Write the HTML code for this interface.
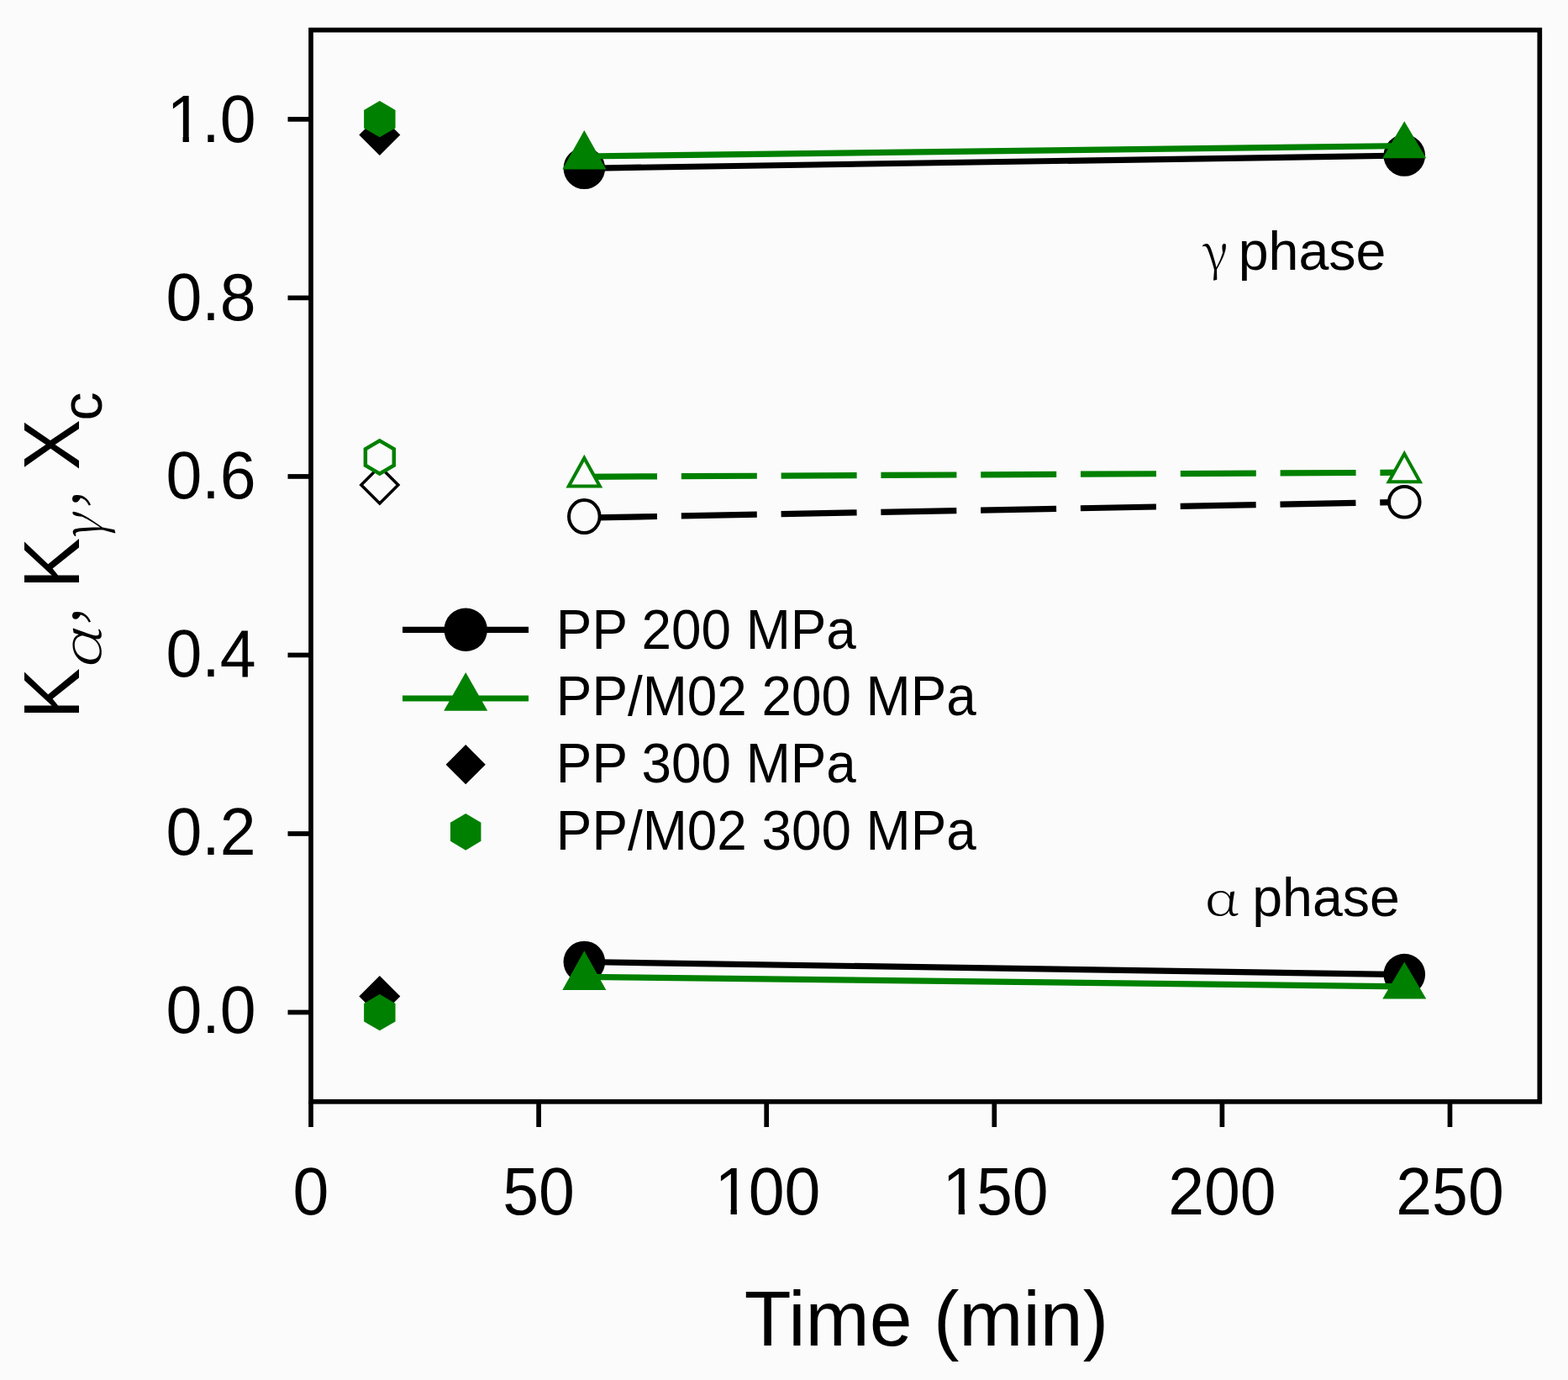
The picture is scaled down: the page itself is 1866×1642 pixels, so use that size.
<!DOCTYPE html>
<html><head><meta charset="utf-8"><title>K alpha, K gamma, Xc vs Time</title>
<style>
html,body{margin:0;padding:0;background:#fbfbfb;}
body{width:1866px;height:1642px;overflow:hidden;}
svg{display:block;}
</style></head>
<body>
<svg width="1866" height="1642" viewBox="0 0 1866 1642">
<rect x="0" y="0" width="1866" height="1642" fill="#fbfbfb"/>
<rect x="370.0" y="35.7" width="1462.3" height="1275.1" fill="none" stroke="#000" stroke-width="5.7" stroke-linejoin="miter"/>
<line x1="342.5" y1="1204.50" x2="370.0" y2="1204.50" stroke="#000" stroke-width="5.7"/>
<line x1="342.5" y1="991.98" x2="370.0" y2="991.98" stroke="#000" stroke-width="5.7"/>
<line x1="342.5" y1="779.46" x2="370.0" y2="779.46" stroke="#000" stroke-width="5.7"/>
<line x1="342.5" y1="566.94" x2="370.0" y2="566.94" stroke="#000" stroke-width="5.7"/>
<line x1="342.5" y1="354.42" x2="370.0" y2="354.42" stroke="#000" stroke-width="5.7"/>
<line x1="342.5" y1="141.90" x2="370.0" y2="141.90" stroke="#000" stroke-width="5.7"/>
<line x1="370.00" y1="1310.8" x2="370.00" y2="1341" stroke="#000" stroke-width="5.7"/>
<line x1="641.10" y1="1310.8" x2="641.10" y2="1341" stroke="#000" stroke-width="5.7"/>
<line x1="912.20" y1="1310.8" x2="912.20" y2="1341" stroke="#000" stroke-width="5.7"/>
<line x1="1183.30" y1="1310.8" x2="1183.30" y2="1341" stroke="#000" stroke-width="5.7"/>
<line x1="1454.40" y1="1310.8" x2="1454.40" y2="1341" stroke="#000" stroke-width="5.7"/>
<line x1="1725.50" y1="1310.8" x2="1725.50" y2="1341" stroke="#000" stroke-width="5.7"/>
<text transform="translate(197.46,1229.00) scale(1,1.04)" font-family="'Liberation Sans', Arial, sans-serif" font-size="77.0" fill="#000">0.0</text>
<text transform="translate(197.46,1016.92) scale(1,1.04)" font-family="'Liberation Sans', Arial, sans-serif" font-size="77.0" fill="#000">0.2</text>
<text transform="translate(197.46,804.84) scale(1,1.04)" font-family="'Liberation Sans', Arial, sans-serif" font-size="77.0" fill="#000">0.4</text>
<text transform="translate(197.46,592.76) scale(1,1.04)" font-family="'Liberation Sans', Arial, sans-serif" font-size="77.0" fill="#000">0.6</text>
<text transform="translate(197.46,380.68) scale(1,1.04)" font-family="'Liberation Sans', Arial, sans-serif" font-size="77.0" fill="#000">0.8</text>
<text transform="translate(197.46,168.60) scale(1,1.04)" font-family="'Liberation Sans', Arial, sans-serif" font-size="77.0" fill="#000"><tspan dx="1.0">1</tspan><tspan dx="-1.0">.0</tspan></text><rect x="203.12" y="161.92" width="14.45" height="8.18" fill="#fbfbfb"/><rect x="224.88" y="161.92" width="14.10" height="8.18" fill="#fbfbfb"/>
<text transform="translate(348.59,1444.80) scale(1,1.04)" font-family="'Liberation Sans', Arial, sans-serif" font-size="77.0" fill="#000">0</text>
<text transform="translate(598.28,1444.80) scale(1,1.04)" font-family="'Liberation Sans', Arial, sans-serif" font-size="77.0" fill="#000">50</text>
<text transform="translate(847.96,1444.80) scale(1,1.04)" font-family="'Liberation Sans', Arial, sans-serif" font-size="77.0" fill="#000"><tspan dx="2.5">1</tspan><tspan dx="-2.5">00</tspan></text><rect x="855.13" y="1438.12" width="14.45" height="8.18" fill="#fbfbfb"/><rect x="876.88" y="1438.12" width="14.10" height="8.18" fill="#fbfbfb"/>
<text transform="translate(1119.06,1444.80) scale(1,1.04)" font-family="'Liberation Sans', Arial, sans-serif" font-size="77.0" fill="#000"><tspan dx="2.5">1</tspan><tspan dx="-2.5">50</tspan></text><rect x="1126.23" y="1438.12" width="14.45" height="8.18" fill="#fbfbfb"/><rect x="1147.98" y="1438.12" width="14.10" height="8.18" fill="#fbfbfb"/>
<text transform="translate(1390.16,1444.80) scale(1,1.04)" font-family="'Liberation Sans', Arial, sans-serif" font-size="77.0" fill="#000">200</text>
<text transform="translate(1661.26,1444.80) scale(1,1.04)" font-family="'Liberation Sans', Arial, sans-serif" font-size="77.0" fill="#000">250</text>
<text transform="translate(885.75,1601.00) scale(1.0080,1.0200)" font-family="'Liberation Sans', Arial, sans-serif" font-size="90.70" fill="#000">Time (min)</text>
<text transform="translate(93.80,855.44) rotate(-90) scale(1.0000,1.0350)" font-family="'Liberation Sans', Arial, sans-serif" font-size="90.70" fill="#000">K</text>
<text transform="translate(119.80,797.37) rotate(-90) skewX(-12) scale(1.3100,1.0000)" font-family="'Noto Serif CJK SC', 'Liberation Serif', serif" font-weight="200" font-size="64.30" fill="#000">α</text>
<text transform="translate(93.80,745.96) rotate(-90)" font-family="'Noto Serif CJK SC', 'Liberation Serif', serif" font-weight="200" font-size="84.00" fill="#000">,</text>
<text transform="translate(93.80,700.44) rotate(-90) scale(1.0000,1.0350)" font-family="'Liberation Sans', Arial, sans-serif" font-size="90.70" fill="#000">K</text>
<text transform="translate(123.00,645.20) rotate(-90) skewX(-12) scale(0.8800,1.0000)" font-family="'Noto Serif CJK SC', 'Liberation Serif', serif" font-weight="200" font-size="70.20" fill="#000">γ</text>
<text transform="translate(93.80,606.96) rotate(-90)" font-family="'Noto Serif CJK SC', 'Liberation Serif', serif" font-weight="200" font-size="84.00" fill="#000">,</text>
<text transform="translate(93.80,559.44) rotate(-90) scale(1.0000,1.0350)" font-family="'Liberation Sans', Arial, sans-serif" font-size="90.70" fill="#000">X</text>
<text transform="translate(121.00,500.39) rotate(-90)" font-family="'Liberation Sans', Arial, sans-serif" font-size="68.00" fill="#000">c</text>
<text transform="translate(1430.90,322.30) scale(1.0000,1.0300)" font-family="'Noto Serif CJK SC', 'Liberation Serif', serif" font-weight="300" font-size="58.40" fill="#000">γ</text>
<text transform="translate(1473.74,320.80)" font-family="'Liberation Sans', Arial, sans-serif" font-size="64.50" fill="#000">phase</text>
<text transform="translate(1433.96,1089.40) scale(1.2600,1.0000)" font-family="'Noto Serif CJK SC', 'Liberation Serif', serif" font-weight="300" font-size="54.20" fill="#000">α</text>
<text transform="translate(1490.14,1090.20)" font-family="'Liberation Sans', Arial, sans-serif" font-size="64.50" fill="#000">phase</text>
<line x1="695.32" y1="200.30" x2="1671.28" y2="185.00" stroke="#000" stroke-width="7.2"/>
<line x1="695.32" y1="1144.50" x2="1671.28" y2="1159.60" stroke="#000" stroke-width="7.2"/>
<line x1="695.32" y1="616.20" x2="1671.28" y2="597.30" stroke="#000" stroke-width="7.2" stroke-dasharray="90 28.8" stroke-dashoffset="3.3"/>
<circle cx="695.32" cy="200.30" r="24.80" fill="#000" stroke="none" stroke-width="0"/>
<circle cx="1671.28" cy="185.00" r="24.80" fill="#000" stroke="none" stroke-width="0"/>
<circle cx="695.32" cy="1144.50" r="24.80" fill="#000" stroke="none" stroke-width="0"/>
<circle cx="1671.28" cy="1159.60" r="24.80" fill="#000" stroke="none" stroke-width="0"/>
<ellipse cx="695.32" cy="614.60" rx="18.30" ry="19.50" fill="#fbfbfb" stroke="#000" stroke-width="4.0"/>
<circle cx="1671.28" cy="597.30" r="18.30" fill="#fbfbfb" stroke="#000" stroke-width="4.0"/>
<line x1="695.32" y1="186.00" x2="1671.28" y2="173.50" stroke="#008000" stroke-width="7.2"/>
<line x1="695.32" y1="1162.40" x2="1671.28" y2="1173.80" stroke="#008000" stroke-width="7.2"/>
<line x1="695.32" y1="567.30" x2="1671.28" y2="562.20" stroke="#008000" stroke-width="7.2" stroke-dasharray="90 28.8" stroke-dashoffset="3.3"/>
<polygon points="695.32,154.93 721.32,201.53 669.32,201.53" fill="#008000" stroke="none" stroke-width="0" stroke-linejoin="miter"/>
<polygon points="1671.28,144.17 1697.28,188.17 1645.28,188.17" fill="#008000" stroke="none" stroke-width="0" stroke-linejoin="miter"/>
<polygon points="695.32,1131.33 721.32,1177.93 669.32,1177.93" fill="#008000" stroke="none" stroke-width="0" stroke-linejoin="miter"/>
<polygon points="1671.28,1144.47 1697.28,1188.47 1645.28,1188.47" fill="#008000" stroke="none" stroke-width="0" stroke-linejoin="miter"/>
<polygon points="695.32,544.97 713.86,578.47 676.78,578.47" fill="#fbfbfb" stroke="#008000" stroke-width="4.0" stroke-linejoin="miter"/>
<polygon points="1671.28,539.87 1689.82,573.37 1652.74,573.37" fill="#fbfbfb" stroke="#008000" stroke-width="4.0" stroke-linejoin="miter"/>
<polygon points="451.83,135.90 476.33,160.40 451.83,184.90 427.33,160.40" fill="#000" stroke="none" stroke-width="0" stroke-linejoin="miter"/>
<polygon points="451.83,1161.10 476.33,1185.60 451.83,1210.10 427.33,1185.60" fill="#000" stroke="none" stroke-width="0" stroke-linejoin="miter"/>
<polygon points="451.83,554.97 473.86,577.00 451.83,599.03 429.80,577.00" fill="#fbfbfb" stroke="#000" stroke-width="3.5" stroke-linejoin="miter"/>
<polygon points="451.83,120.10 470.54,130.90 470.54,152.50 451.83,163.30 433.12,152.50 433.12,130.90" fill="#008000" stroke="none" stroke-width="0" stroke-linejoin="miter"/>
<polygon points="451.83,1183.10 470.54,1193.90 470.54,1215.50 451.83,1226.30 433.12,1215.50 433.12,1193.90" fill="#008000" stroke="none" stroke-width="0" stroke-linejoin="miter"/>
<polygon points="451.83,524.40 468.80,534.20 468.80,553.80 451.83,563.60 434.86,553.80 434.86,534.20" fill="#fbfbfb" stroke="#008000" stroke-width="4.5" stroke-linejoin="miter"/>
<line x1="479.00" y1="749.30" x2="629.00" y2="749.30" stroke="#000" stroke-width="7.2"/>
<circle cx="554.20" cy="749.30" r="25.75" fill="#000" stroke="none" stroke-width="0"/>
<line x1="479.00" y1="831.00" x2="629.00" y2="831.00" stroke="#008000" stroke-width="7.2"/>
<polygon points="554.20,800.03 580.20,845.73 528.20,845.73" fill="#008000" stroke="none" stroke-width="0" stroke-linejoin="miter"/>
<polygon points="554.20,886.10 577.80,909.70 554.20,933.30 530.60,909.70" fill="#000" stroke="none" stroke-width="0" stroke-linejoin="miter"/>
<polygon points="554.20,967.90 572.45,978.85 572.45,1000.75 554.20,1011.70 535.95,1000.75 535.95,978.85" fill="#008000" stroke="none" stroke-width="0" stroke-linejoin="miter"/>
<text transform="translate(661.87,772.30) scale(0.9890,1.0300)" font-family="'Liberation Sans', Arial, sans-serif" font-size="64.50" fill="#000">PP 200 MPa</text>
<text transform="translate(661.87,851.20) scale(0.9890,1.0300)" font-family="'Liberation Sans', Arial, sans-serif" font-size="64.50" fill="#000">PP/M02 200 MPa</text>
<text transform="translate(661.87,930.60) scale(0.9890,1.0300)" font-family="'Liberation Sans', Arial, sans-serif" font-size="64.50" fill="#000">PP 300 MPa</text>
<text transform="translate(661.87,1011.00) scale(0.9890,1.0300)" font-family="'Liberation Sans', Arial, sans-serif" font-size="64.50" fill="#000">PP/M02 300 MPa</text>
</svg>
</body></html>
